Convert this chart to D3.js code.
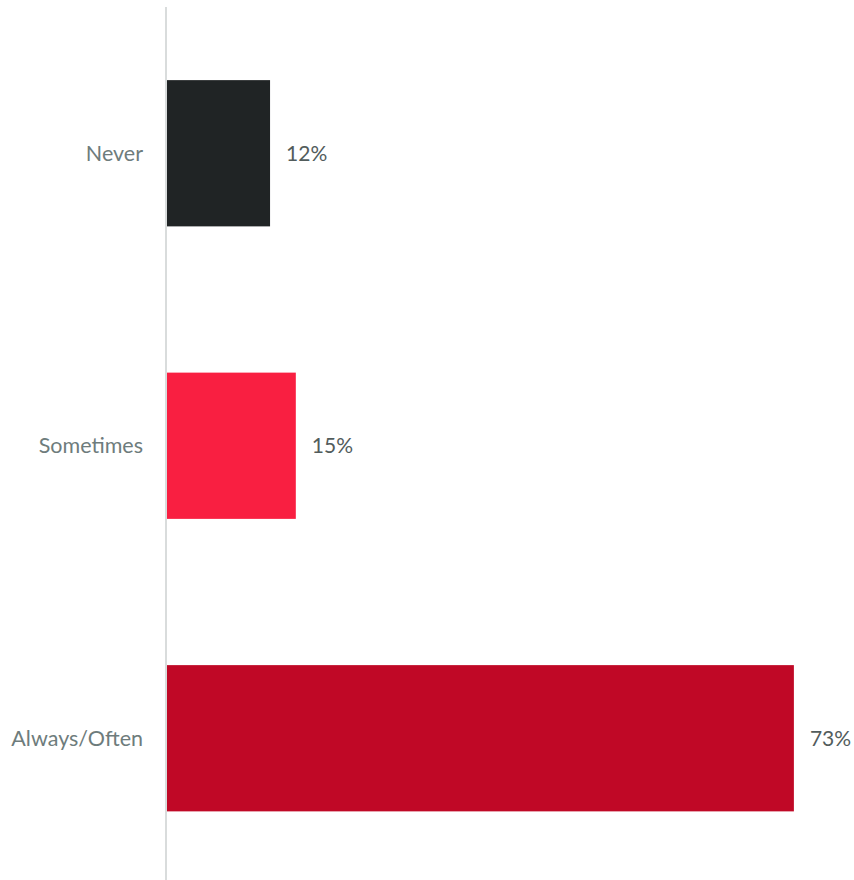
<!DOCTYPE html>
<html>
<head>
<meta charset="utf-8">
<script src="https://cdn.jsdelivr.net/npm/d3@7"></script>
<style>
  html, body { margin: 0; padding: 0; background: #fff; }
  svg { display: block; }
  text { font-family: Lato, "Open Sans", sans-serif; }
</style>
</head>
<body>
<svg id="chart" width="854" height="880"></svg>
<script>
// Survey responses and their shares
const categories = ["Never", "Sometimes", "Always/Often"];
const shares = [0.12, 0.15, 0.73];
const barColors = ["#202425", "#f91f41", "#c00826"];

const svg = d3.select("#chart");
const W = 854, H = 880;
const left = 167;

const x = d3.scaleLinear().domain([0, 0.8]).range([left, W]);
const y = d3.scaleBand().domain(categories).range([7, 884.5])
  .paddingInner(0.5).paddingOuter(0.25);

// Category axis line
svg.append("line")
  .attr("x1", left - 1).attr("x2", left - 1)
  .attr("y1", 7).attr("y2", H)
  .attr("stroke", "#d9dcdc").attr("stroke-width", 2);

const rows = categories.map((c, i) => ({ c, v: shares[i], col: barColors[i] }));

svg.selectAll("rect.bar").data(rows).join("rect")
  .attr("class", "bar")
  .attr("x", x(0))
  .attr("y", d => y(d.c))
  .attr("width", d => x(d.v) - x(0))
  .attr("height", y.bandwidth())
  .attr("fill", d => d.col);

// Category labels
svg.selectAll("text.cat").data(rows).join("text")
  .attr("class", "cat")
  .attr("x", 143)
  .attr("y", d => y(d.c) + y.bandwidth() / 2)
  .attr("dy", "0.35em")
  .attr("text-anchor", "end")
  .attr("font-size", 21.5)
  .attr("fill", "#6e7c7c")
  .text(d => d.c);

// Value labels
const fmt = d3.format(".0%");
svg.selectAll("text.val").data(rows).join("text")
  .attr("class", "val")
  .attr("x", d => x(d.v) + 16)
  .attr("y", d => y(d.c) + y.bandwidth() / 2)
  .attr("dy", "0.35em")
  .attr("font-size", 21)
  .attr("fill", "#525c5c")
  .text(d => fmt(d.v));
</script>
</body>
</html>
